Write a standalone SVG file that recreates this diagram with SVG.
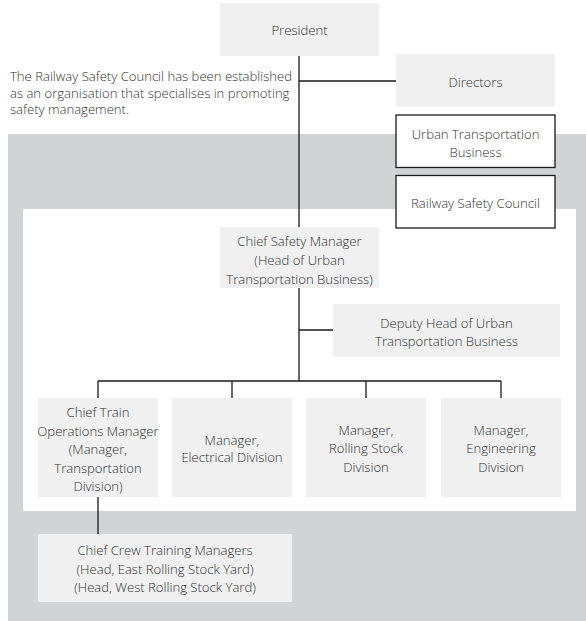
<svg xmlns="http://www.w3.org/2000/svg" width="586" height="621" viewBox="0 0 586 621">
<style>
.box{fill:#eff0ef}
.wbox{fill:#ffffff;stroke:#1a1a1a;stroke-width:1.3}
.t{font-family:"Open Sans","Noto Sans","Liberation Sans",sans-serif;font-size:13.1px;font-weight:300;fill:#333333;text-anchor:middle}
.p{font-family:"Open Sans","Noto Sans","Liberation Sans",sans-serif;font-size:13.1px;font-weight:300;fill:#333333}
.c{stroke:#1a1a1a;stroke-width:1.3;fill:none}
</style>
<rect x="8" y="134" width="578" height="487" fill="#d2d3d5"/>
<rect x="23" y="209" width="553" height="302" fill="#ffffff"/>
<text class="p" x="10" y="81.4">The Railway Safety Council has been established</text>
<text class="p" x="10" y="97.7">as an organisation that specialises in promoting</text>
<text class="p" x="10" y="114">safety management.</text>
<g id="connectors">
<path class="c" d="M299,56V381M299,81H396M299,330H333M98,381H501M98,381V398M232,381V398M366,381V398M501,381V398M98,497V534"/>
</g>
<g id="president"><rect class="box" x="220" y="3" width="159" height="53"/><text class="t" x="299.5" y="35">President</text></g>
<g id="directors"><rect class="box" x="396" y="54" width="159" height="52.5"/><text class="t" x="475.5" y="86.5">Directors</text></g>
<g id="urban"><rect class="wbox" x="396" y="115" width="159" height="52.5"/><text class="t" x="475.5" y="138.5">Urban Transportation</text><text class="t" x="475.5" y="157.4">Business</text></g>
<g id="rsc"><rect class="wbox" x="396" y="175.5" width="159" height="52.5"/><text class="t" x="475.5" y="208">Railway Safety Council</text></g>
<g id="csm"><rect class="box" x="220" y="227" width="159" height="61"/><text class="t" x="299.5" y="245.7">Chief Safety Manager</text><text class="t" x="299.5" y="265">(Head of Urban</text><text class="t" x="299.5" y="284">Transportation Business)</text></g>
<g id="deputy"><rect class="box" x="333" y="304" width="227" height="53"/><text class="t" x="446.5" y="328">Deputy Head of Urban</text><text class="t" x="446.5" y="346.4">Transportation Business</text></g>
<g id="ctom"><rect class="box" x="38" y="398" width="120" height="99"/><text class="t" x="98" y="417">Chief Train</text><text class="t" x="98" y="435.6">Operations Manager</text><text class="t" x="98" y="454.2">(Manager,</text><text class="t" x="98" y="472.8">Transportation</text><text class="t" x="98" y="491.4">Division)</text></g>
<g id="electrical"><rect class="box" x="172" y="398" width="120" height="99"/><text class="t" x="232" y="444.7">Manager,</text><text class="t" x="232" y="462.4">Electrical Division</text></g>
<g id="rolling"><rect class="box" x="306" y="398" width="120" height="99"/><text class="t" x="366" y="434.7">Manager,</text><text class="t" x="366" y="453.4">Rolling Stock</text><text class="t" x="366" y="472.2">Division</text></g>
<g id="engineering"><rect class="box" x="441" y="398" width="120" height="99"/><text class="t" x="501" y="434.7">Manager,</text><text class="t" x="501" y="453.4">Engineering</text><text class="t" x="501" y="472.2">Division</text></g>
<g id="crew"><rect class="box" x="38" y="534" width="254" height="68"/><text class="t" x="165" y="555.4">Chief Crew Training Managers</text><text class="t" x="165" y="573.8">(Head, East Rolling Stock Yard)</text><text class="t" x="165" y="592.2">(Head, West Rolling Stock Yard)</text></g>
</svg>
